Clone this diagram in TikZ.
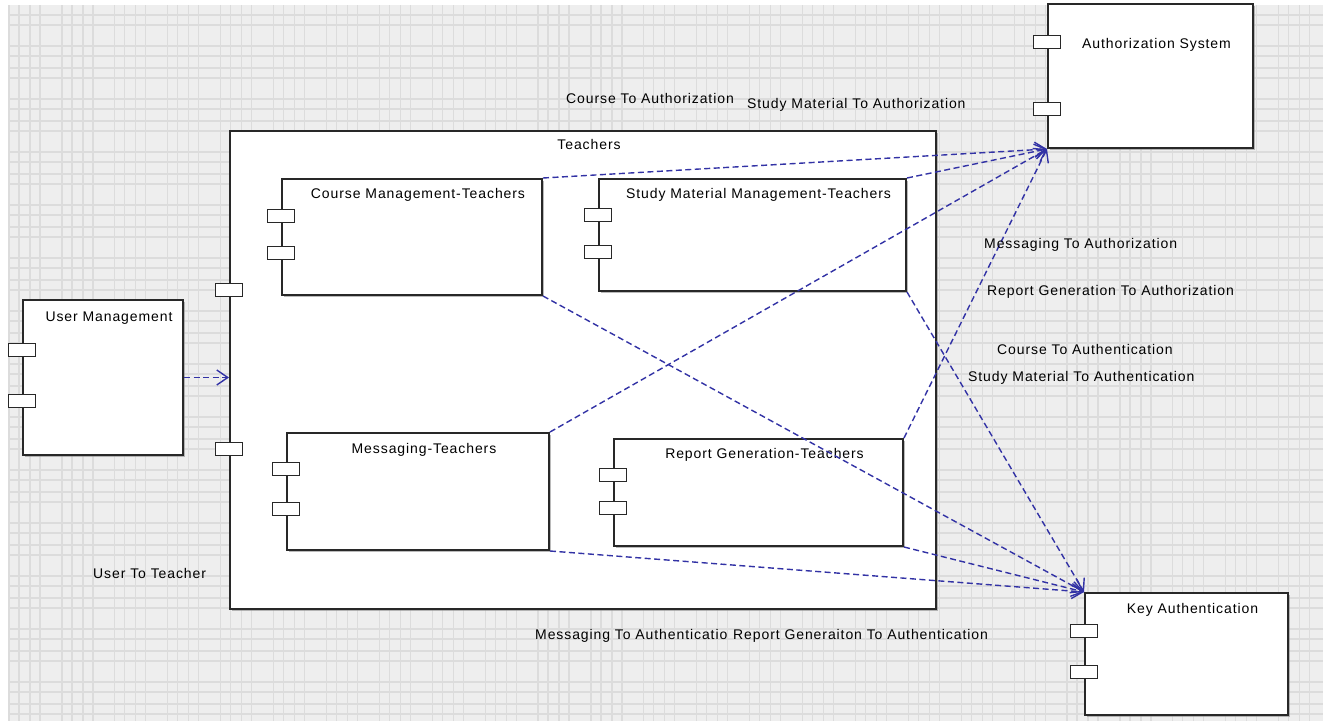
\documentclass[tikz,border=0pt]{standalone}
\usepackage{fontspec}
\setmainfont{Liberation Sans}
\newfontfamily\diagfont[LetterSpace=6.5]{Liberation Sans}
\usetikzlibrary{arrows.meta,shadows}
\usepackage{xcolor}
\definecolor{linkblue}{RGB}{50,50,165}
\definecolor{gridbg}{RGB}{238,238,238}
\definecolor{gridln}{RGB}{220,220,220}
\definecolor{boxline}{RGB}{40,40,40}
\newcommand{\compbox}[8]{%
  \node[compbox, minimum width=#3pt, minimum height=#4pt, anchor=north west] (#1) at (#2) {};
  \node[boxtitle] (#1-title) at ([xshift=6pt, yshift=-#8pt]#1.north) {#5};
  \node[port] (#1-p1) at ([yshift=-#6pt]#1.north west) {};
  \node[port] (#1-p2) at ([yshift=-#7pt]#1.north west) {};}

\begin{document}
\begin{tikzpicture}[x=1pt, y=-1pt,
  compbox/.style={draw=boxline, line width=2pt, fill=white, inner sep=0pt,
    drop shadow={shadow xshift=1.5pt, shadow yshift=-1.5pt, fill=black!45, opacity=0.6}},
  port/.style={draw=boxline, line width=1.7pt, fill=white, inner sep=0pt,
    minimum width=27pt, minimum height=13pt},
  boxtitle/.style={font=\diagfont\fontsize{14}{16}\selectfont, inner sep=0pt, anchor=base},
  linklabel/.style={font=\diagfont\fontsize{14}{16}\selectfont, inner sep=0pt, anchor=base west},
  gridline/.style={draw=gridln, line width=1.2pt},
  deplink/.style={draw=linkblue, line width=1.4pt, dash pattern=on 6pt off 3.5pt,
    -{Straight Barb[length=11pt,width=15pt]}}]

\useasboundingbox (0,0) rectangle (1323,721);

% grid background
\begin{scope}
  \clip (8,5) rectangle (1323,721);
  \fill[gridbg] (8,5) rectangle (1323,721);
  \foreach \k in {0,...,25}{\foreach \o in {0,10,21,31}{
    \draw[gridline] ({9+52.9*\k+\o},0) -- ++(0,721);}}
  \foreach \k in {0,...,14}{\foreach \o in {0,10,22,32}{
    \draw[gridline] (0,{-7+53*\k+\o}) -- ++(1323,0);}}
\end{scope}

% components
\compbox{teachers}{229,130}{706}{478}{Teachers}{160}{319}{19}
\compbox{authSys}{1047,3}{205}{144}{Authorization System}{39}{106}{45}
\compbox{courseMgmt}{281,178}{260}{116}{Course Management-Teachers}{38}{75}{20}
\compbox{studyMgmt}{598,178}{307}{112}{Study Material Management-Teachers}{37}{74}{20}
\compbox{messaging}{286,432}{262}{117}{Messaging-Teachers}{37}{77}{21}
\compbox{reportGen}{613,438}{289}{107}{Report Generation-Teachers}{37}{70}{20}
\compbox{userMgmt}{22,299}{160}{155}{User Management}{51}{102}{22}
\compbox{keyAuth}{1084,592}{203}{122}{Key Authentication}{39}{80}{21}

% dependencies
\draw[deplink] (userMgmt.east) -- (userMgmt.east -| teachers.west);
\draw[deplink] (courseMgmt.north east) -- (authSys.south west);
\draw[deplink] (studyMgmt.north east) -- (authSys.south west);
\draw[deplink] (messaging.north east) -- (authSys.south west);
\draw[deplink] (reportGen.north east) -- (authSys.south west);
\draw[deplink] (courseMgmt.south east) -- (keyAuth.north west);
\draw[deplink] (studyMgmt.south east) -- (keyAuth.north west);
\draw[deplink] (messaging.south east) -- (keyAuth.north west);
\draw[deplink] (reportGen.south east) -- (keyAuth.north west);

% labels
\node[linklabel] (lblCourseAuthz) at (566,103) {Course To Authorization};
\node[linklabel] (lblStudyAuthz) at (747,108) {Study Material To Authorization};
\node[linklabel] (lblMsgAuthz) at (984,248) {Messaging To Authorization};
\node[linklabel] (lblReportAuthz) at (987,295) {Report Generation To Authorization};
\node[linklabel] (lblCourseAuthn) at (997,354) {Course To Authentication};
\node[linklabel] (lblStudyAuthn) at (968,381) {Study Material To Authentication};
\node[linklabel] (lblMsgAuthn) at (535,639) {Messaging To Authenticatio};
\node[linklabel] (lblReportAuthn) at (733,639) {Report Generaiton To Authentication};
\node[linklabel] (lblUserTeacher) at (93,578) {User To Teacher};

\end{tikzpicture}
\end{document}
